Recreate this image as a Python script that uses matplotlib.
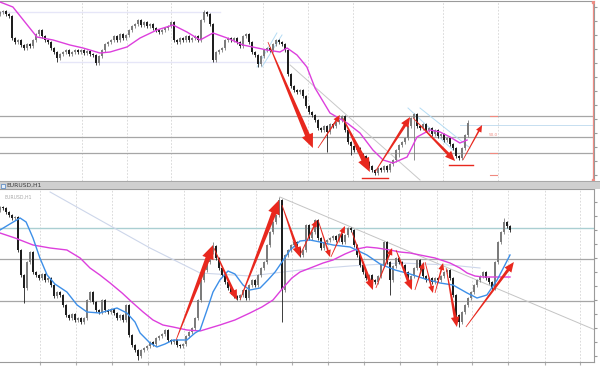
import numpy as np
import matplotlib
matplotlib.use("Agg")
import matplotlib.pyplot as plt
from matplotlib.patches import Polygon, Rectangle
from matplotlib.transforms import IdentityTransform

# ---------------- data: top panel (H4) ----------------
top_close = [188,189,186,184,162,158,160,155,152,156,154,160,166,170,164,160,158,152,148,142,
             146,148,150,146,148,150,148,150,147,149,146,145,137,144,150,156,158,160,164,160,
             166,162,165,170,174,176,180,175,178,174,176,172,170,168,170,172,174,178,160,158,
             162,160,164,160,162,164,
             160,180,188,186,176,140,148,150,152,160,162,160,162,158,154,164,166,158,148,145,
             136,144,150,152,150,156,160,158,156,150,126,114,110,108,110,
             104,94,88,85,80,72,70,74,68,76,74,78,80,84,70,58,54,50,52,46,
             44,38,34,30,27,32,30,34,30,36,40,50,55,58,62,74,82,86,74,72,
             76,70,72,66,70,64,66,60,62,56,52,44,42,52,65,77]
top_first_open = 186
top_highs = {68: 190, 156: 80}
top_lows = {19: 138, 32: 135, 71: 138, 86: 133, 109: 48, 117: 45, 133: 43, 138: 40}

top_ma_x = [0,4.3,8.3,12.3,17.7,23.3,27.7,33.3,36.7,42.3,46.7,52.3,57.7,62.3,66.7,71,75.7,81,89,93.3,
            95.7,99,102.3,105,110,115.7,120,124.3,127.7,131,135.7,139,143.3,146.7,150,153.3,155.7]
top_ma_v = [198,193,178,163,160,155,152,147,148,153,162,170,175,168,160,167,162,155,150,148,
            152,145,133,112,87,77,67,50,40,37,43,63,70,68,63,57,60]

top_levels = [84, 63, 47]
top_lav_levels = [(0, 73.3, 188), (20, 101.7, 138)]
top_price_line = (153.3, 198, 75)
top_trend = [(96.7, 135, 140, 20)]
top_channels = [(85.7, 133, 92.3, 167), (87.3, 133, 94, 165), (136, 92, 151, 50), (140, 92, 156.7, 52)]
top_arrows = [(89.3,158,104.3,52,'L'), (106,52,113.3,85,'S'), (114.3,82,123.3,28,'L'),
              (125,28,136.7,83,'M'), (137.7,82,151.7,39,'M'), (154.3,40,160.7,75,'S')]
top_red_hlines = [(120.7, 129.3, 22), (149.7, 157.7, 35)]
fib_levels = [84, 47, 25]
fib_label = "50.0"

# ---------------- data: bottom panel (EURUSD,H1) ----------------
bot_close = [193,192,188,185,182,183,150,125,112,138,148,128,125,122,126,120,122,115,104,108,
             105,95,85,82,86,80,82,78,82,100,108,98,90,88,
             100,90,88,91,87,82,85,80,95,65,55,50,44,50,52,54,58,56,62,64,66,70,60,58,60,55,
             54,56,64,68,72,82,100,
             120,130,138,148,154,142,132,125,118,112,108,104,102,105,110,102,115,120,115,125,
             132,138,155,168,178,185,200,110,145,150,155,158,152,145,
             150,175,162,168,180,162,152,158,160,162,164,160,166,158,165,172,170,155,145,135,
             128,122,125,120,118,124,135,158,138,120,134,142,138,
             135,128,120,124,132,140,132,124,120,122,118,122,120,124,128,130,122,105,85,78,
             88,95,102,108,115,120,124,128,122,118,112,138,158,168,178,174,170]
bot_first_open = 190
bot_highs = {71: 158, 93: 203, 168: 182}
bot_lows = {8: 97, 46: 40, 94: 78, 130: 105, 153: 73}

blue_x = [0,3.3,6.7,8.7,11,13.3,15.7,18.3,22.3,25.7,29,33.3,36.7,39,42.3,45,46.7,50,52.3,55,
          57.7,62.3,65,66.7,69,71,73.3,76,78.3,81,83.3,86.7,89.3,91.7,94,96.7,100,103.3,106.7,111,
          116.7,122.3,126.7,131.7,136.7,141.7,146.7,151,155.7,159,162.3,165.7,168.3,170]
blue_v = [170,176,182,178,162,142,125,116,108,95,88,87,90,92,87,78,67,57,53,56,
          60,60,67,70,90,108,120,129,126,115,110,112,120,128,138,150,159,160,158,155,
          153,145,136,130,126,121,117,115,107,102,105,120,135,145]

mag_x = [0,5,11,16.7,22.3,26.7,30,33.3,36.7,40.7,44.3,47.7,51,54.3,57.7,62.3,66.7,70,73.3,78.3,
         83.3,87.3,91,94.3,97.3,100,104.3,107.7,111,115,119,122.3,125.7,130,133.3,136.7,140,145,150,153.3,
         155.7,158.3,161,165,170]
mag_v = [167,162,155,152,150,142,132,125,117,107,97,88,80,75,73,70,69,72,75,80,
         87,93,100,112,122,128,133,137,140,146,151,153,152,150,148,147,145,142,137,132,
         127,124,123,123,123]

slow_x = [16.7,33.3,50,66.7,83.3,100,116.7,133.3,150,160]
slow_v = [208,180,152,127,124,130,134,137,135,132]

bot_levels = [141, 99]
bot_teal_level = 172
bot_trend = [(93.3, 203, 200, 68)]
bot_arrows = [(58.7,60,71,155,'L'), (71.3,152,79,100,'M'), (80,100,93,200,'L'), (94,195,100,143,'M'),
              (100,145,105.7,180,'S'), (106,180,110,143,'S'), (110.3,143,115,174,'S'),
              (117.3,168,124.3,110,'M'), (125.3,112,130.7,152,'S'), (132,150,137.3,110,'M'),
              (138.3,110,141.3,138,'S'), (141.7,138,144.3,107,'S'), (145,107,147.7,137,'S'),
              (148.7,132,152.3,73,'M'), (155.3,73,171.3,138,'M')]
symbol = "EURUSD,H1"

# ---------------- styles ----------------
RED = '#e8281e'
MAG = '#dd3fdd'
BLUE = '#3d8fe8'
UPC = '#7c7c7c'
DNC = '#1e1e1e'
ARROW_SIZES = {'L': (5.0, 12.0, 14.0), 'M': (3.0, 8.5, 10.0), 'S': (1.6, 6.0, 7.0)}

W, H = 600, 370
fig = plt.figure(figsize=(6, 3.7), dpi=100)
fig.patch.set_facecolor('white')

def px_rect(x0, y0, x1, y1):
    return [x0 / W, 1 - y1 / H, (x1 - x0) / W, (y1 - y0) / H]

ax1 = fig.add_axes(px_rect(0, 1, 594, 181))
ax2 = fig.add_axes(px_rect(0, 189, 594, 362))

def style_axes(ax, ylim, grid_bars):
    ax.set_xlim(0, 198)
    ax.set_ylim(*ylim)
    ax.set_facecolor('white')
    ax.spines['left'].set_visible(False)
    for s in ['top', 'bottom', 'right']:
        ax.spines[s].set_color('#9a9a9a')
        ax.spines[s].set_linewidth(0.8)
    ax.set_xticks(grid_bars)
    ax.set_xticklabels([])
    ax.tick_params(axis='x', length=2, color='#b0b0b0', direction='out')
    ax.yaxis.tick_right()
    ax.set_yticks(np.arange(ylim[0] + 6, ylim[1], 14))
    ax.set_yticklabels([])
    ax.tick_params(axis='y', length=2.5, color='#999999', direction='out')
    ax.grid(axis='x', color='#d4d4d4', linestyle=(0, (2, 2)), linewidth=0.6)
    ax.set_axisbelow(True)

style_axes(ax1, (19, 199), [27.3, 42.3, 57, 87.7, 102.7, 117.7, 147.7, 166])
style_axes(ax2, (38, 211), [13.3, 25.3, 37.3, 49.3, 61.3, 73.3, 85.3, 97.3, 109.3, 121.3,
                            133.3, 145.7, 157.3, 169.3, 181.7, 193.3])

def candles(ax, closes, first_open, highs, lows):
    c = np.array(closes, float)
    o = np.concatenate([[first_open], c[:-1]])
    hi = np.maximum(o, c) + 1.5
    lo = np.minimum(o, c) - 1.5
    for k, v in highs.items():
        hi[k] = max(hi[k], v)
    for k, v in lows.items():
        lo[k] = min(lo[k], v)
    x = np.arange(len(c))
    up = c >= o
    cols = np.where(up, UPC, DNC)
    ax.vlines(x, lo, hi, colors=cols, linewidth=0.6, zorder=3)
    hgt = np.maximum(np.abs(c - o), 0.8)
    ax.bar(x, hgt, bottom=np.minimum(o, c), width=0.65, color=cols, linewidth=0, zorder=3)

def tarrow(ax, x0, v0, x1, v1, size):
    w1, hw, hl = ARROW_SIZES[size]
    p0 = ax.transData.transform((x0, v0))
    p1 = ax.transData.transform((x1, v1))
    d = p1 - p0
    L = np.hypot(*d)
    u = d / L
    n = np.array([-u[1], u[0]])
    base = p1 - u * hl
    w0 = 0.7
    pts = [p0 + n * w0 / 2, base + n * w1 / 2, base + n * hw / 2, p1,
           base - n * hw / 2, base - n * w1 / 2, p0 - n * w0 / 2]
    ax.add_patch(Polygon(pts, closed=True, transform=IdentityTransform(), facecolor=RED,
                         edgecolor='none', zorder=6, clip_on=False))

# ---- top panel ----
for lv in top_levels:
    ax1.axhline(lv, color='#a6a6a6', lw=0.9, zorder=2)
for x0, x1, lv in top_lav_levels:
    ax1.plot([x0, x1], [lv, lv], color='#e6e6f8', lw=1.0, zorder=2)
ax1.plot([top_price_line[0], top_price_line[1]], [top_price_line[2]] * 2, color='#c6def0', lw=0.7, zorder=2)
for x0, v0, x1, v1 in top_trend:
    ax1.plot([x0, x1], [v0, v1], color='#c8c8c8', lw=0.7, zorder=2)
for x0, v0, x1, v1 in top_channels:
    ax1.plot([x0, x1], [v0, v1], color='#b4dcf4', lw=0.7, zorder=2)
candles(ax1, top_close, top_first_open, top_highs, top_lows)
ax1.plot(top_ma_x, top_ma_v, color=MAG, lw=1.0, zorder=4)
for x0, x1, lv in top_red_hlines:
    ax1.plot([x0, x1], [lv, lv], color=RED, lw=1.0, zorder=5)
for lv in fib_levels:
    ax1.plot([163.3, 165.7], [lv, lv], color='#f08a80', lw=0.8, zorder=5)
ax1.text(164.5, 65, fib_label, fontsize=3, color='#f08a80', ha='center', va='center')
ax1.axvline(197.6, color='#ee8c84', lw=0.9, zorder=5)
ax1.plot([197.6, 197.6], [198, 20], ls='none', marker='s', ms=2, color='#ee8c84', zorder=6)
for a in top_arrows:
    tarrow(ax1, *a)

# ---- bottom panel ----
ax2.axhline(bot_teal_level, color='#aacfd2', lw=1.0, zorder=2)
for lv in bot_levels:
    ax2.axhline(lv, color='#a6a6a6', lw=0.9, zorder=2)
for x0, v0, x1, v1 in bot_trend:
    ax2.plot([x0, x1], [v0, v1], color='#c4c4c4', lw=0.7, zorder=2)
ax2.plot(slow_x, slow_v, color='#cdd6ea', lw=0.8, zorder=2)
candles(ax2, bot_close, bot_first_open, bot_highs, bot_lows)
ax2.plot(mag_x, mag_v, color=MAG, lw=1.0, zorder=4)
ax2.plot(blue_x, blue_v, color=BLUE, lw=1.0, zorder=4)
for a in bot_arrows:
    tarrow(ax2, *a)
ax2.text(0.008, 0.955, symbol, transform=ax2.transAxes, fontsize=3.3, color='#a8a8a8',
         ha='left', va='center')

# ---- separator bar with tab ----
fig.patches.append(Rectangle((0, 1 - 189 / H), 1, 8 / H, transform=fig.transFigure,
                             facecolor='#cfcfcf', edgecolor='none', zorder=0))
fig.patches.append(Rectangle((0, 1 - 182 / H), 1, 1 / H, transform=fig.transFigure,
                             facecolor='#a8a8a8', edgecolor='none', zorder=1))
fig.patches.append(Rectangle((1 / W, 1 - 187.5 / H), 4 / W, 4 / H, transform=fig.transFigure,
                             facecolor='#e8f0fa', edgecolor='#4a7fc0', linewidth=0.5, zorder=2))
fig.text(6.5 / W, 1 - 185.5 / H, symbol, fontsize=4.3, color='#3c3c3c', ha='left', va='center')

fig.savefig('out.png', dpi=100, facecolor='white')
